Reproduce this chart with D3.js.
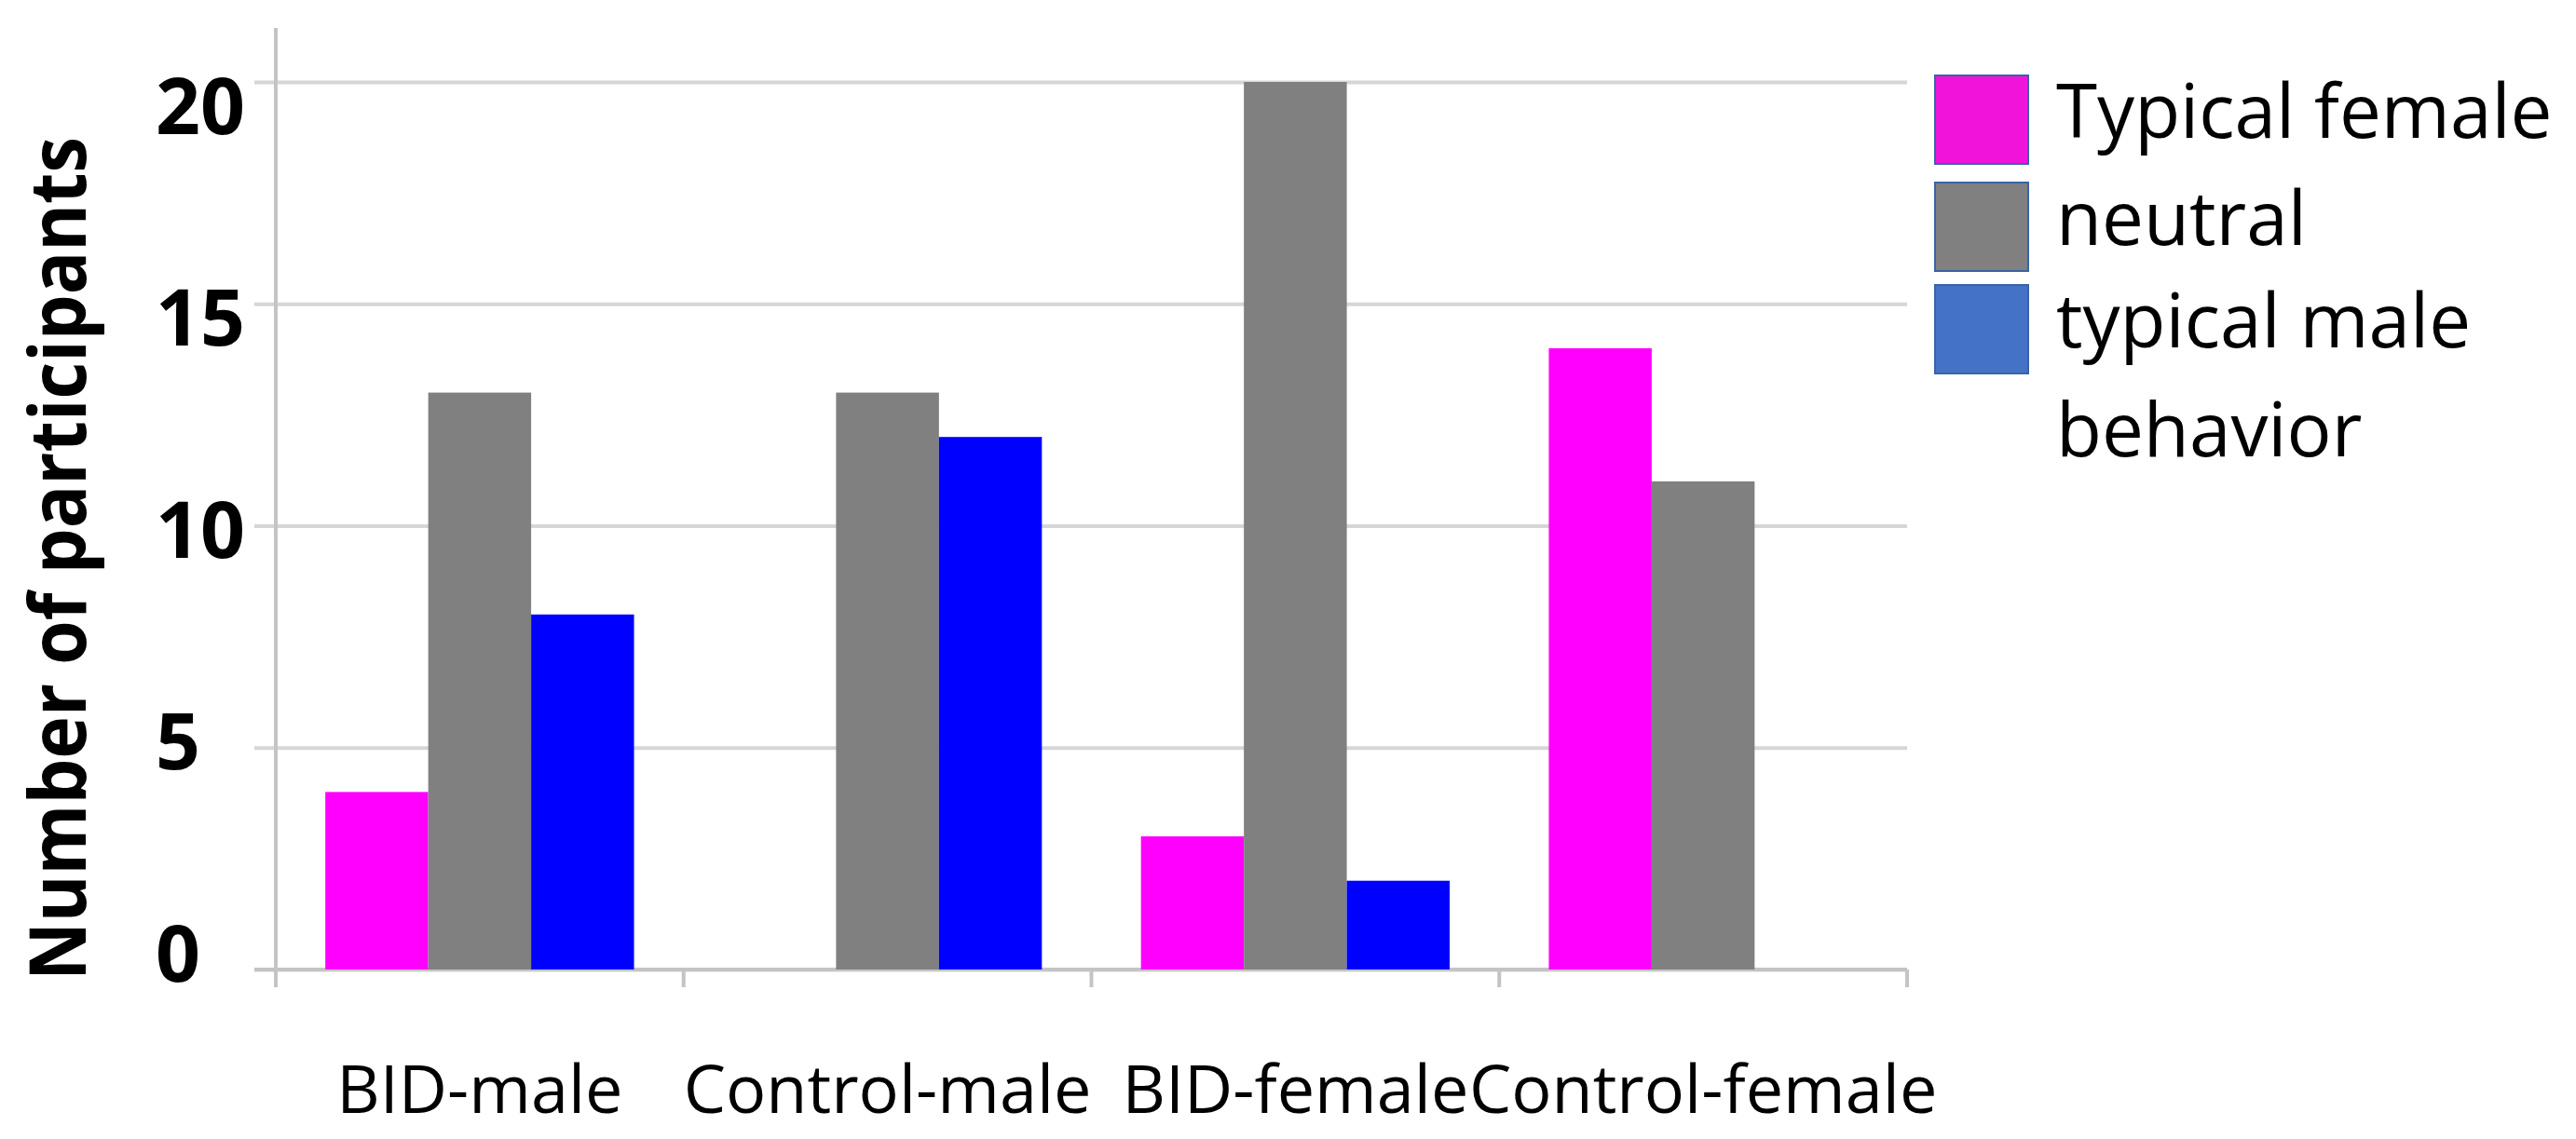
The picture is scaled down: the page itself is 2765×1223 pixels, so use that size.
<!DOCTYPE html>
<html>
<head>
<meta charset="utf-8">
<script src="https://cdn.jsdelivr.net/npm/d3@7"></script>
<style>
  html, body { margin: 0; padding: 0; background: #ffffff; }
  svg { display: block; }
</style>
</head>
<body>
<svg id="chart" width="2765" height="1223"></svg>
<script>
// ---- data ----
const categories = ["BID-male", "Control-male", "BID-female", "Control-female"];
const seriesNames = ["Typical female", "neutral", "typical male behavior"];
const typicalFemale = [4, 0, 3, 14];
const neutral = [13, 13, 20, 11];
const typicalMale = [8, 12, 2, 0];
const yTicks = [0, 5, 10, 15, 20];
const legendLines = [["Typical female"], ["neutral"], ["typical male", "behavior"]];
const yTitle = "Number of participants";

// ---- styles ----
const barColors = ["#FF00FF", "#808080", "#0000FF"];
const legendColors = ["#F014DA", "#808080", "#4472C4"];
const gridColor = "#d6d6d6";
const axisColor = "#c4c4c4";

const svg = d3.select("#chart");
svg.append("rect").attr("width", 2765).attr("height", 1223).attr("fill", "#fff");

const plotLeft = 296, plotRight = 2047, plotTop = 88, plotBottom = 1041;

const y = d3.scaleLinear().domain([0, 20]).range([plotBottom, plotTop]);
// tick labels in the source sit on a slightly compressed ladder
const yLab = d3.scaleLinear().domain([0, 20]).range([1023, 113]);

const x0 = d3.scaleBand().domain(categories).range([plotLeft, plotRight])
  .paddingInner(0.243).paddingOuter(0.1215);
const x1 = d3.scaleBand().domain(seriesNames).range([0, x0.bandwidth()]);

const seriesValues = [typicalFemale, neutral, typicalMale];

// gridlines (incl. y ticks extending left of the axis)
const grid = svg.append("g")
  .attr("transform", `translate(${plotRight},0)`)
  .call(d3.axisLeft(y).tickValues(yTicks).tickSize(plotRight - plotLeft + 23).tickFormat(""));
grid.select(".domain").remove();
grid.selectAll("line").attr("stroke", gridColor).attr("stroke-width", 4);

// vertical axis line
svg.append("line")
  .attr("x1", plotLeft).attr("x2", plotLeft)
  .attr("y1", 30).attr("y2", plotBottom + 19)
  .attr("stroke", axisColor).attr("stroke-width", 4);

// x-axis baseline + category boundary ticks
svg.append("line")
  .attr("x1", plotLeft - 23).attr("x2", plotRight)
  .attr("y1", y(0)).attr("y2", y(0))
  .attr("stroke", axisColor).attr("stroke-width", 4);
const step = x0.step();
const boundaries = d3.range(categories.length + 1).map(i => plotLeft + i * step);
svg.append("g").selectAll("line").data(boundaries).join("line")
  .attr("x1", d => d).attr("x2", d => d)
  .attr("y1", y(0)).attr("y2", y(0) + 19)
  .attr("stroke", axisColor).attr("stroke-width", 4);

// bars
const groups = svg.append("g").selectAll("g").data(categories).join("g")
  .attr("transform", d => `translate(${x0(d)},0)`);
groups.selectAll("rect")
  .data((d, i) => seriesNames.map((s, j) => ({ s, j, v: seriesValues[j][i] })))
  .join("rect")
  .attr("x", d => x1(d.s))
  .attr("width", x1.bandwidth())
  .attr("y", d => y(d.v))
  .attr("height", d => y(0) - y(d.v))
  .attr("fill", d => barColors[d.j]);

// y tick labels (bold, left aligned)
const yAx = svg.append("g")
  .attr("transform", "translate(167,0)")
  .call(d3.axisLeft(yLab).tickValues(yTicks).tickSize(0).tickFormat(d3.format("d")));
yAx.select(".domain").remove();
yAx.selectAll("text")
  .attr("x", 0).attr("dy", "0.36em")
  .attr("text-anchor", "start")
  .attr("font-family", "'Open Sans', sans-serif")
  .attr("font-weight", 700)
  .attr("font-size", 84)
  .attr("fill", "#000");

// y axis title
svg.append("text")
  .attr("transform", `translate(92,${(147 + 1053) / 2}) rotate(-90)`)
  .attr("text-anchor", "middle")
  .attr("font-family", "'Open Sans', sans-serif")
  .attr("font-weight", 700)
  .attr("font-size", 84)
  .attr("textLength", 906)
  .attr("lengthAdjust", "spacingAndGlyphs")
  .attr("fill", "#000")
  .text(yTitle);

// x category labels
svg.append("g").selectAll("text").data(categories).join("text")
  .attr("x", d => x0(d) + x0.bandwidth() / 2)
  .attr("y", 1195)
  .attr("text-anchor", "middle")
  .attr("font-family", "'Open Sans', sans-serif")
  .attr("font-size", 72)
  .attr("fill", "#000")
  .text(d => d);

// legend
const legendBaselines = [148, 263, 373];
const legend = svg.append("g");
seriesNames.forEach((s, i) => {
  const g = legend.append("g");
  g.append("rect")
    .attr("x", 2077).attr("y", legendBaselines[i] - 67)
    .attr("width", 100).attr("height", 95)
    .attr("fill", legendColors[i])
    .attr("stroke", "#3a62a8").attr("stroke-width", 2);
  const t = g.append("text")
    .attr("x", 2207).attr("y", legendBaselines[i])
    .attr("font-family", "'Open Sans', sans-serif")
    .attr("font-size", 80)
    .attr("fill", "#000");
  legendLines[i].forEach((line, k) => {
    t.append("tspan").attr("x", 2207).attr("dy", k === 0 ? 0 : 117).text(line);
  });
});
</script>
</body>
</html>
